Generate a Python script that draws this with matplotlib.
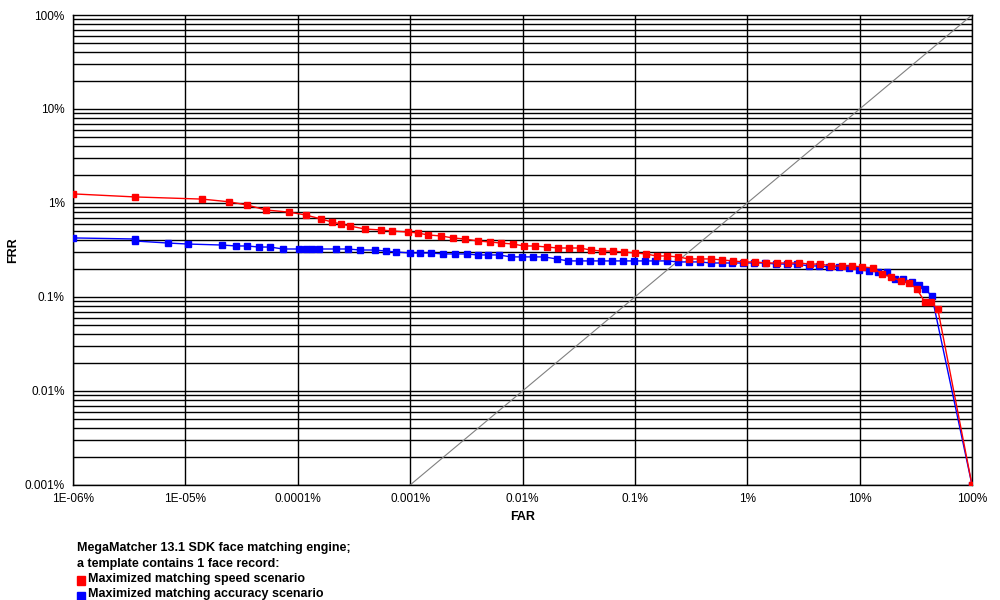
import numpy as np
import matplotlib.pyplot as plt
from matplotlib.patches import Rectangle

plt.rcParams['font.family'] = 'Liberation Sans'

# FAR (%) / FRR (%)
speed_far = [1e-6, 3.56e-6, 1.41e-5, 2.44e-5, 3.53e-5, 5.2e-5, 8.35e-5, 1.18e-4, 1.61e-4,
             2.01e-4, 2.42e-4, 2.91e-4, 3.96e-4, 5.5e-4, 6.9e-4, 9.55e-4, 1.17e-3, 1.44e-3,
             1.88e-3, 2.40e-3, 3.08e-3, 4.0e-3, 5.1e-3, 6.4e-3, 8.2e-3, 0.0103, 0.0129,
             0.0165, 0.0207, 0.0259, 0.0324, 0.0406, 0.0509, 0.0637, 0.0798, 0.1, 0.125,
             0.157, 0.193, 0.242, 0.302, 0.379, 0.474, 0.594, 0.744, 0.93, 1.17, 1.47, 1.83,
             2.30, 2.88, 3.61, 4.43, 5.55, 6.95, 8.53, 10.5, 13.1, 15.8, 19.0, 23.3, 27.4,
             32.3, 38.0, 43.0, 49.6, 100]
speed_frr = [1.25, 1.16, 1.10, 1.03, 0.953, 0.843, 0.80, 0.745, 0.676, 0.628, 0.598, 0.569,
             0.529, 0.516, 0.504, 0.491, 0.480, 0.457, 0.446, 0.425, 0.414, 0.394, 0.385,
             0.375, 0.366, 0.349, 0.349, 0.340, 0.332, 0.332, 0.332, 0.316, 0.308, 0.308,
             0.301, 0.294, 0.287, 0.273, 0.273, 0.267, 0.254, 0.254, 0.254, 0.248, 0.242,
             0.236, 0.236, 0.230, 0.230, 0.230, 0.230, 0.224, 0.224, 0.214, 0.214, 0.214,
             0.209, 0.204, 0.176, 0.163, 0.148, 0.141, 0.122, 0.0885, 0.0885, 0.0745, 0.001]

acc_far = [1e-6, 3.56e-6, 3.56e-6, 7.0e-6, 1.05e-5, 2.12e-5, 2.82e-5, 3.53e-5, 4.52e-5,
           5.66e-5, 7.4e-5, 1.03e-4, 1.18e-4, 1.34e-4, 1.55e-4, 2.19e-4, 2.80e-4, 3.58e-4,
           4.86e-4, 6.09e-4, 7.48e-4, 9.96e-4, 1.22e-3, 1.53e-3, 1.96e-3, 2.51e-3, 3.20e-3,
           4.0e-3, 4.92e-3, 6.17e-3, 7.89e-3, 9.9e-3, 0.0124, 0.0155, 0.0202, 0.0254,
           0.0318, 0.0398, 0.0499, 0.0624, 0.0782, 0.098, 0.123, 0.151, 0.193, 0.242,
           0.302, 0.379, 0.474, 0.594, 0.73, 0.914, 1.15, 1.44, 1.80, 2.25, 2.76, 3.53,
           4.34, 5.32, 6.53, 8.02, 9.84, 12.1, 14.5, 17.5, 20.6, 24.2, 29.1, 33.6, 38.0,
           43.9, 100]
acc_frr = [0.425, 0.414, 0.394, 0.375, 0.366, 0.357, 0.349, 0.349, 0.340, 0.340, 0.324,
           0.324, 0.324, 0.324, 0.324, 0.324, 0.324, 0.316, 0.316, 0.308, 0.301, 0.294,
           0.294, 0.294, 0.287, 0.287, 0.287, 0.280, 0.280, 0.280, 0.267, 0.267, 0.267,
           0.267, 0.254, 0.242, 0.242, 0.242, 0.242, 0.242, 0.242, 0.242, 0.242, 0.242,
           0.242, 0.236, 0.236, 0.236, 0.230, 0.230, 0.230, 0.230, 0.230, 0.230,
           0.224, 0.224, 0.224, 0.214, 0.214, 0.209, 0.209, 0.204, 0.194, 0.189, 0.185,
           0.185, 0.155, 0.155, 0.144, 0.134, 0.122, 0.1025, 0.001]

x_ticks = [1e-6, 1e-5, 1e-4, 1e-3, 1e-2, 1e-1, 1, 10, 100]
x_labels = ['1E-06%', '1E-05%', '0.0001%', '0.001%', '0.01%', '0.1%', '1%', '10%', '100%']
y_ticks = [1e-3, 1e-2, 1e-1, 1, 10, 100]
y_labels = ['0.001%', '0.01%', '0.1%', '1%', '10%', '100%']

fig = plt.figure(figsize=(10, 6), dpi=100)
ax = fig.add_axes([0.073, 0.1917, 0.899, 0.7833])
ax.set_xscale('log')
ax.set_yscale('log')
ax.set_xlim(1e-6, 100)
ax.set_ylim(1e-3, 100)

# grid: major vertical, major+minor horizontal
for v in x_ticks:
    ax.axvline(v, color='black', lw=1, zorder=1)
for d in range(-3, 2):
    for m in range(1, 10):
        ax.axhline(m * 10.0**d, color='black', lw=1, zorder=1)
ax.plot([1e-3, 100], [1e-3, 100], color='#808080', lw=0.8, zorder=2)

ax.plot(acc_far, acc_frr, color='blue', lw=1, marker='s', ms=4.5, zorder=3)
ax.plot(speed_far, speed_frr, color='red', lw=1, marker='s', ms=4.5, zorder=4)

ax.set_xticks(x_ticks)
ax.set_xticklabels(x_labels, fontsize=8.5)
ax.set_yticks(y_ticks)
ax.set_yticklabels(y_labels, fontsize=8.5)
ax.minorticks_off()
ax.tick_params(length=0, pad=6)
ax.set_xlabel('FAR', fontsize=9, fontweight='bold')
ax.set_ylabel('FRR', fontsize=9, fontweight='bold')
for s in ax.spines.values():
    s.set_linewidth(1)

lines = ['MegaMatcher 13.1 SDK face matching engine;', 'a template contains 1 face record:',
         'Maximized matching speed scenario', 'Maximized matching accuracy scenario']
for i, t in enumerate(lines):
    y = 1 - (548 + i * 15.5) / 600
    x = 0.077 if i < 2 else 0.088
    fig.text(x, y, t, fontsize=9, fontweight='bold', va='center')
fig.patches.append(Rectangle((0.077, 1 - 585 / 600), 0.008, 0.015, color='red', transform=fig.transFigure))
fig.patches.append(Rectangle((0.077, 1 - 600.5 / 600), 0.008, 0.015, color='blue', transform=fig.transFigure))

plt.savefig('out.png')
